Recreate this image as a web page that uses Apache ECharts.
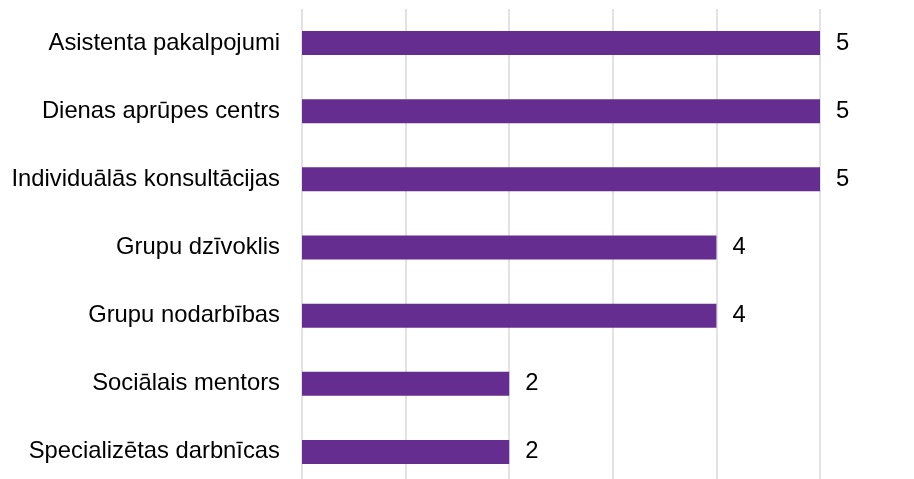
<!DOCTYPE html>
<html>
<head>
<meta charset="utf-8">
<style>
  html, body { margin: 0; padding: 0; background: #ffffff; }
  #chart { width: 914px; height: 479px; }
</style>
<script src="https://cdn.jsdelivr.net/npm/echarts@6/dist/echarts.min.js"></script>
</head>
<body>
<div id="chart"></div>
<script>
// Service names, listed top to bottom
const categories = [
  'Asistenta pakalpojumi',
  'Dienas aprūpes centrs',
  'Individuālās konsultācijas',
  'Grupu dzīvoklis',
  'Grupu nodarbības',
  'Sociālais mentors',
  'Specializētas darbnīcas'
];
// Count per service
const counts = [5, 5, 5, 4, 4, 2, 2];

const chart = echarts.init(document.getElementById('chart'), null, { renderer: 'canvas' });

chart.setOption({
  animation: false,
  backgroundColor: '#ffffff',
  textStyle: { fontFamily: 'Liberation Sans, Arial, sans-serif' },
  // plot area runs slightly past the bottom edge of the canvas
  grid: {
    left: 302, width: 518, top: 9, height: 477,
    containLabel: false,
    outerBoundsMode: 'none'
  },
  xAxis: {
    type: 'value',
    min: 0,
    max: 5,
    interval: 1,
    axisLabel: { show: false },
    axisLine: { show: false },
    axisTick: { show: false },
    splitLine: { show: true, lineStyle: { color: '#d9d9d9', width: 1.5 } }
  },
  yAxis: {
    type: 'category',
    data: categories,
    inverse: true,
    axisLine: { show: false },
    axisTick: { show: false },
    axisLabel: {
      color: '#000000',
      fontSize: 23.8,
      margin: 22,
      fontFamily: 'Liberation Sans, Arial, sans-serif'
    }
  },
  series: [{
    type: 'bar',
    data: counts,
    barWidth: 24,
    itemStyle: { color: '#652d90' },
    label: {
      show: true,
      position: 'right',
      distance: 16,
      color: '#000000',
      fontSize: 23.8,
      fontFamily: 'Liberation Sans, Arial, sans-serif'
    }
  }]
});
</script>
</body>
</html>
